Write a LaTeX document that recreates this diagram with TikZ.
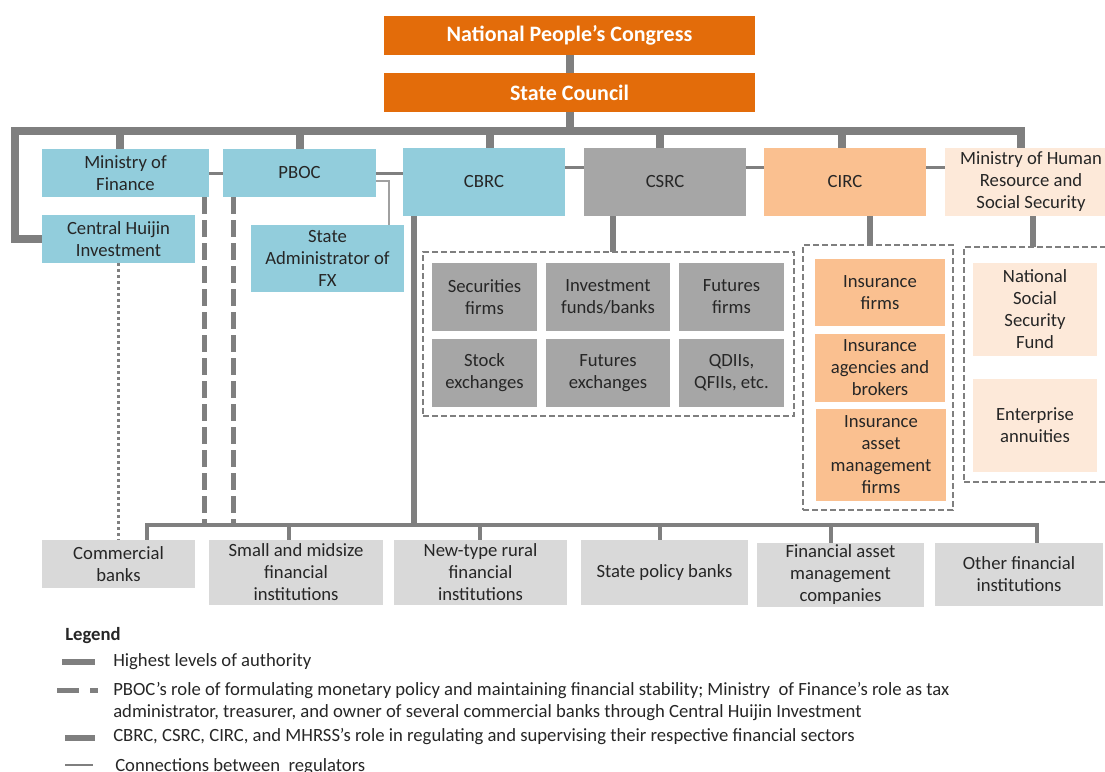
\documentclass[tikz,border=0pt]{standalone}
\usepackage{fontspec}
\setmainfont{Carlito}

\definecolor{npcorange}{HTML}{E36C0A}
\definecolor{regblue}{HTML}{92CDDC}
\definecolor{reggray}{HTML}{A6A6A6}
\definecolor{insorange}{HTML}{FAC090}
\definecolor{socpeach}{HTML}{FDE9D9}
\definecolor{instgray}{HTML}{D9D9D9}
\definecolor{linkgray}{HTML}{7F7F7F}
\definecolor{fxgray}{HTML}{A0A0A0}
\definecolor{textgray}{HTML}{262626}

\begin{document}
\begin{tikzpicture}
  [x=0.75pt, y=-0.75pt,
  sz/.style 2 args={minimum width=#1*0.75pt, minimum height=#2*0.75pt},
  box/.style={inner sep=0pt, align=center, text=textgray, font=\fontsize{14}{16.5}\selectfont},
  top box/.style={box, fill=npcorange, text=white, font=\fontsize{16.5}{20}\selectfont\bfseries},
  blue box/.style={box, fill=regblue},
  gray box/.style={box, fill=reggray},
  ins box/.style={box, fill=insorange},
  soc box/.style={box, fill=socpeach},
  inst box/.style={box, fill=instgray},
  group/.style={inner sep=0pt, draw=linkgray, line width=1.5pt, dash pattern=on 4.5pt off 2.25pt},
  authority/.style={draw=linkgray, line width=6pt},
  supervise/.style={draw=linkgray, line width=4.5pt},
  pbocline/.style={draw=linkgray, line width=4.1pt, dash pattern=on 12.75pt off 4.5pt},
  hujinline/.style={draw=linkgray, line width=2.25pt, dash pattern=on 2.25pt off 2.25pt},
  regline/.style={draw=linkgray, line width=2.25pt},
  fxline/.style={draw=fxgray, line width=1.5pt},
  lowline/.style={draw=linkgray, line width=2.5pt},
  legend text/.style={anchor=west, inner sep=0pt, align=left, text=textgray, font=\fontsize{14}{16.5}\selectfont}]
  \useasboundingbox (0,0) rectangle (1105,771);
  \clip (0,0) rectangle (1105,771);

  % top of the hierarchy
  \node[top box, sz={371}{39}] (npc) at (569.5,35.5) {National People’s Congress};
  \node[top box, sz={371}{39}] (council) at (569.5,92.5) {State Council};

  % regulators
  \node[blue box, sz={167}{48}] (mof) at (125.5,173) {Ministry of\\Finance};
  \node[blue box, sz={153}{48}] (huijin) at (118.5,239) {Central Huijin\\Investment};
  \node[blue box, sz={153}{48}] (pboc) at (299.5,173) {PBOC};
  \node[blue box, sz={153}{67}] (safx) at (327.5,258.5) {State\\Administrator of\\FX};
  \node[blue box, sz={162}{68}] (cbrc) at (484,182) {CBRC};
  \node[gray box, sz={162}{68}] (csrc) at (665,182) {CSRC};
  \node[ins box, sz={162}{68}] (circ) at (845,182) {CIRC};
  \node[soc box, sz={172}{68}] (mhrss) at (1031,182) {Ministry of Human\\Resource and\\Social Security};

  % supervised sectors
  \node[group, sz={371}{164}] (csrcgroup) at (608.5,334) {};
  \node[gray box, sz={105}{68}] (secfirms) at (484.5,297) {Securities\\firms};
  \node[gray box, sz={124}{68}] (invfunds) at (608,297) {Investment\\funds/banks};
  \node[gray box, sz={105}{68}] (futfirms) at (731.5,297) {Futures\\firms};
  \node[gray box, sz={105}{68}] (stockex) at (484.5,373) {Stock\\exchanges};
  \node[gray box, sz={124}{68}] (futex) at (608,373) {Futures\\exchanges};
  \node[gray box, sz={105}{68}] (qdii) at (731.5,373) {QDIIs,\\QFIIs, etc.};

  \node[group, sz={150}{265}] (circgroup) at (878,377.5) {};
  \node[ins box, sz={130}{67}] (insfirms) at (880,292.5) {Insurance\\firms};
  \node[ins box, sz={130}{68}] (insagents) at (880,368) {Insurance\\agencies and\\brokers};
  \node[ins box, sz={130}{92}] (insasset) at (881,455) {Insurance\\asset\\management\\firms};

  \node[group, sz={156}{235}] (mhrssgroup) at (1042,364.5) {};
  \node[soc box, sz={124}{93}] (nssf) at (1035,309.5) {National\\Social\\Security\\Fund};
  \node[soc box, sz={124}{93}] (annuities) at (1035,425.5) {Enterprise\\annuities};

  % banking institutions
  \node[inst box, sz={153}{48}] (commercial) at (118.5,564) {Commercial\\banks};
  \node[inst box, sz={174}{65}] (smallmid) at (296,572.5) {Small and midsize\\financial\\institutions};
  \node[inst box, sz={173}{65}] (rural) at (480.5,572.5) {New-type rural\\financial\\institutions};
  \node[inst box, sz={167}{65}] (policy) at (664.5,572.5) {State policy banks};
  \node[inst box, sz={167}{64}] (fam) at (840.5,575) {Financial asset\\management\\companies};
  \node[inst box, sz={168}{63}] (other) at (1019,574.5) {Other financial\\institutions};

  % highest levels of authority
  \coordinate (busL) at (15,131);
  \coordinate (busR) at (1021,131);
  \draw[authority] (npc) -- (council);
  \draw[authority] (council) -- (council |- busL);
  \draw[authority] (huijin.west) -| (busL) -- (busR) -- (busR |- mhrss.north);
  \draw[authority] (120,131) -- (120,131 |- mof.north);
  \draw[authority] (300,131) -- (300,131 |- pboc.north);
  \draw[authority] (490,131) -- (490,131 |- cbrc.north);
  \draw[authority] (660,131) -- (660,131 |- csrc.north);
  \draw[authority] (842,131) -- (842,131 |- circ.north);

  % connections between regulators
  \draw[regline] (mof) -- (pboc);
  \draw[regline] (pboc) -- (cbrc.west |- pboc.east);
  \draw[regline] ([yshift=-15pt]cbrc.north east) -- ([yshift=-15pt]csrc.north west);
  \draw[regline] ([yshift=-15pt]csrc.north east) -- ([yshift=-15pt]circ.north west);
  \draw[regline] ([yshift=-15pt]circ.north east) -- ([yshift=-15pt]mhrss.north west);
  \draw[fxline] ([yshift=-6pt]pboc.east) -| ([xshift=-11.25pt]safx.north east);

  % sector supervision
  \coordinate (csrcfoot) at (613,252);
  \coordinate (circfoot) at (870,245);
  \coordinate (mhrssfoot) at (1033,247);
  \draw[supervise] (csrc.south -| csrcfoot) -- (csrcfoot);
  \draw[supervise] (circ.south -| circfoot) -- (circfoot);
  \draw[supervise] (mhrss.south -| mhrssfoot) -- (mhrssfoot);

  % banking sector
  \coordinate (lowL) at (147,525);
  \coordinate (lowR) at (1037,525);
  \coordinate (cbrcfoot) at (414,525);
  \coordinate (mofdash) at (204.5,525);
  \coordinate (pbocdash) at (233.5,525);
  \draw[supervise] (cbrc.south -| cbrcfoot) -- (cbrcfoot);
  \draw[pbocline] (mof.south -| mofdash) -- (mofdash);
  \draw[pbocline] (pboc.south -| pbocdash) -- (pbocdash);
  \draw[hujinline] (huijin) -- (commercial);
  \draw[lowline] (commercial.north -| lowL) -- (lowL) -- (lowR) -- (other.north -| lowR);
  \draw[lowline] (289,525) -- (289,525 |- smallmid.north);
  \draw[lowline] (480,525) -- (480,525 |- rural.north);
  \draw[lowline] (660,525) -- (660,525 |- policy.north);
  \draw[lowline] (831,525) -- (831,525 |- fam.north);

  % legend
  \node[legend text, font=\fontsize{14}{16.5}\selectfont\bfseries] (legendtitle) at (65,636) {Legend};
  \draw[linkgray, line width=4.5pt] (62,662) -- (95,662);
  \node[legend text] (leg1) at (113,662) {Highest levels of authority};
  \draw[linkgray, line width=3.75pt, dash pattern=on 16.5pt off 8.25pt on 6pt off 10pt] (57,690) -- (98,690);
  \node[legend text] (leg2) at (113,702) {PBOC’s role of formulating monetary policy and maintaining financial stability; Ministry\ \ of Finance’s role as tax\\administrator, treasurer, and owner of several commercial banks through Central Huijin Investment};
  \draw[linkgray, line width=4.5pt] (65,738) -- (95,738);
  \node[legend text] (leg3) at (113,737) {CBRC, CSRC, CIRC, and MHRSS’s role in regulating and supervising their respective financial sectors};
  \draw[linkgray, line width=1.5pt] (65,765) -- (93,765);
  \node[legend text] (leg4) at (115,767) {Connections between\ \ regulators};
\end{tikzpicture}
\end{document}
